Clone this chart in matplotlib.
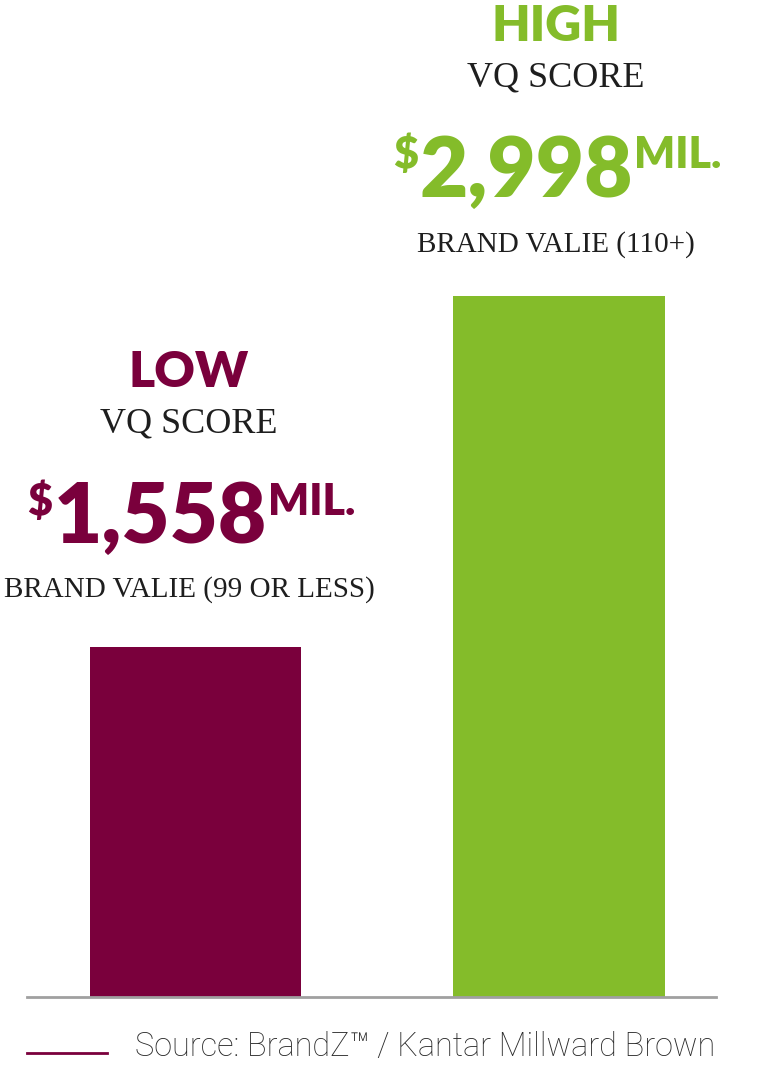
import matplotlib.pyplot as plt

W, H = 761, 1070

groups = ['LOW', 'HIGH']
values = [1558, 2998]
captions = ['BRAND VALIE (99 OR LESS)', 'BRAND VALIE (110+)']
colors = ['#7a003c', '#84bc2a']
source = 'Source: BrandZ\u2122 / Kantar Millward Brown'

fig = plt.figure(figsize=(W / 100, H / 100), dpi=100)

# axes: baseline at y=997px, x from 27px to 716px
base_px = 997
ax = fig.add_axes([27 / W, (H - base_px) / H, (716 - 27) / W, base_px / H])
ax.bar([0, 1], values, width=0.582, color=colors)
ax.set_xlim(-0.4635, 1.432)
ax.set_ylim(122, 122 + base_px / 0.24375)
ax.axis('off')
ax.axhline(122, color='#a0a0a0', lw=2, clip_on=False)


def px(x, y):
    return x / W, 1 - y / H


bold = dict(family=['Lato', 'DejaVu Sans'], fontweight='heavy')
serif = dict(family=['Liberation Serif', 'DejaVu Serif'], color='#1e1e1e')

# text layout per group: (column centre, group-label baseline, vq baseline,
#  number centre, number baseline, sup baseline, caption baseline)
layout = [
    (189, 387, 432, 160, 543, 515, 597),
    (556, 41, 87, 526, 197, 168, 252),
]

renderer = fig.canvas.get_renderer()
for i in range(2):
    cx, yl, yv, nx, ny, sy, cy = layout[i]
    fig.text(*px(cx, yl), groups[i], ha='center', va='baseline', fontsize=36,
             color=colors[i], **bold)
    fig.text(*px(cx, yv), 'VQ SCORE', ha='center', va='baseline', fontsize=26, **serif)
    num = fig.text(*px(nx, ny), f'{values[i]:,}', ha='center', va='baseline', fontsize=60,
                   color=colors[i], **bold)
    bb = num.get_window_extent(renderer)
    fig.text((bb.x0 - 1) / W, 1 - sy / H, '$', ha='right', va='baseline', fontsize=31,
             color=colors[i], **bold)
    fig.text((bb.x1 + 1) / W, 1 - sy / H, 'MIL.', ha='left', va='baseline', fontsize=31,
             color=colors[i], **bold)
    fig.text(*px(cx, cy), captions[i], ha='center', va='baseline', fontsize=21, **serif)

# source line
fig.add_artist(plt.Line2D([27 / W, 107 / W], [1 - 1053 / H] * 2, color=colors[0], lw=2))
src = fig.text(*px(135, 1056), source, ha='left', va='baseline', fontsize=21,
               family=['Roboto', 'DejaVu Sans'], fontweight='light', color='#2a2a2a')
sw = src.get_window_extent(renderer).width
src.set_fontsize(21 * (716 - 135) / sw)

fig.savefig('out.png', dpi=100)
